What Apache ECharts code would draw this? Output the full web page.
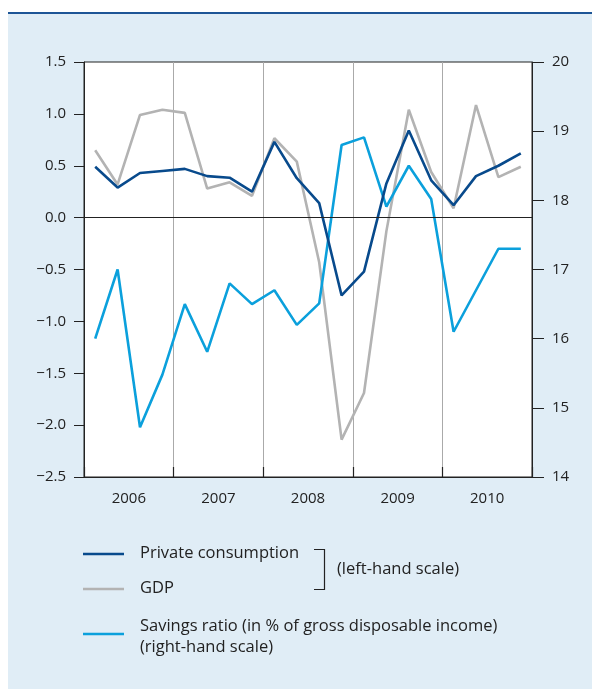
<!DOCTYPE html>
<html>
<head>
<meta charset="utf-8">
<script src="https://cdn.jsdelivr.net/npm/echarts@6/dist/echarts.min.js"></script>
<style>
html,body{margin:0;padding:0;background:#fff;}
#wrap{position:relative;width:592px;height:689px;overflow:hidden;}
#band{position:absolute;left:8px;top:14px;width:584px;height:675px;background:#e0edf6;}
#topline{position:absolute;left:8px;top:12px;width:584px;height:2px;background:#1d5596;}
#chart{position:absolute;left:0;top:0;width:592px;height:689px;}
</style>
</head>
<body>
<div id="wrap"><div id="band"></div><div id="topline"></div><div id="chart"></div></div>
<script>
const quarters = ['2006Q1','2006Q2','2006Q3','2006Q4','2007Q1','2007Q2','2007Q3','2007Q4','2008Q1','2008Q2','2008Q3','2008Q4','2009Q1','2009Q2','2009Q3','2009Q4','2010Q1','2010Q2','2010Q3','2010Q4'];
const years = ['2006','2007','2008','2009','2010'];
const privateConsumption = [0.49,0.29,0.43,0.45,0.47,0.40,0.385,0.25,0.73,0.38,0.14,-0.75,-0.52,0.33,0.84,0.36,0.12,0.40,0.50,0.62];
const gdp = [0.65,0.32,0.99,1.04,1.01,0.28,0.34,0.21,0.765,0.54,-0.43,-2.14,-1.69,-0.13,1.04,0.44,0.09,1.085,0.39,0.49];
const savingsRatio = [16.0,17.0,14.72,15.48,16.5,15.81,16.8,16.5,16.7,16.2,16.51,18.8,18.91,17.91,18.5,18.02,16.1,16.7,17.3,17.3];
const leftTicks = {min:-2.5, max:1.5, interval:0.5};
const rightTicks = {min:14, max:20, interval:1};
const legendNames = ['Private consumption','GDP','Savings ratio (in % of gross disposable income)','(right-hand scale)','(left-hand scale)'];

const FONT = "'Open Sans', 'Noto Sans', sans-serif";
const TXT = '#222';
const C_PC = '#084a8c', C_GDP = '#b3b3b3', C_SR = '#0ba0dc';
const LF = '16.5px ' + FONT;
const LW = 2.6;

const chart = echarts.init(document.getElementById('chart'), null, {renderer:'canvas'});
chart.setOption({
  backgroundColor:'transparent',
  animation:false,
  textStyle:{fontFamily:FONT},
  grid:{left:84,right:60,top:62,bottom:212,show:true,backgroundColor:'#fff',borderColor:'#222',borderWidth:1},
  xAxis:[
    {type:'category',data:quarters,boundaryGap:true,show:false,gridIndex:0},
    {type:'category',data:years,boundaryGap:true,position:'bottom',gridIndex:0,
     axisLine:{show:true,lineStyle:{color:'#222',width:1}},
     axisTick:{show:true,inside:true,length:10,lineStyle:{color:'#222',width:1.2}},
     axisLabel:{color:TXT,fontSize:15,fontFamily:FONT,margin:14},
     splitLine:{show:true,lineStyle:{color:'#aaa',width:1}}}
  ],
  yAxis:[
    {type:'value',min:leftTicks.min,max:leftTicks.max,interval:leftTicks.interval,position:'left',
     axisLine:{show:true,lineStyle:{color:'#222',width:1}},
     axisTick:{show:true,length:10,lineStyle:{color:'#222'}},
     axisLabel:{color:TXT,fontSize:15,fontFamily:FONT,margin:18,
       formatter:v=>v.toFixed(1).replace('-','\u2212')},
     splitLine:{show:false}},
    {type:'value',min:rightTicks.min,max:rightTicks.max,interval:rightTicks.interval,position:'right',
     axisLine:{show:true,lineStyle:{color:'#222',width:1}},
     axisTick:{show:true,length:12,lineStyle:{color:'#222'}},
     axisLabel:{color:TXT,fontSize:15,fontFamily:FONT,margin:20},
     splitLine:{show:false}}
  ],
  series:[
    {name:legendNames[1],type:'line',xAxisIndex:0,yAxisIndex:0,data:gdp,symbol:'none',
     lineStyle:{color:C_GDP,width:LW},z:2},
    {name:legendNames[2],type:'line',xAxisIndex:0,yAxisIndex:1,data:savingsRatio,symbol:'none',
     lineStyle:{color:C_SR,width:LW},z:3},
    {name:legendNames[0],type:'line',xAxisIndex:0,yAxisIndex:0,data:privateConsumption,symbol:'none',
     lineStyle:{color:C_PC,width:LW},z:4,
     markLine:{silent:true,symbol:'none',label:{show:false},
       lineStyle:{color:'#222',width:1,type:'solid'},data:[{yAxis:0}]}}
  ],
  graphic:[
    {type:'line',shape:{x1:83,y1:554,x2:124,y2:554},style:{stroke:C_PC,lineWidth:LW}},
    {type:'line',shape:{x1:83,y1:589,x2:124,y2:589},style:{stroke:C_GDP,lineWidth:LW}},
    {type:'line',shape:{x1:83,y1:634,x2:124,y2:634},style:{stroke:C_SR,lineWidth:LW}},
    {type:'text',left:140,top:545,style:{text:legendNames[0],fill:TXT,font:LF}},
    {type:'text',left:140,top:580,style:{text:legendNames[1],fill:TXT,font:LF}},
    {type:'text',left:140,top:618,style:{text:legendNames[2],fill:TXT,font:LF}},
    {type:'text',left:140,top:639,style:{text:legendNames[3],fill:TXT,font:LF}},
    {type:'polyline',shape:{points:[[314,549.5],[324.5,549.5],[324.5,589.5],[314,589.5]]},style:{stroke:'#222',lineWidth:1.2,fill:null}},
    {type:'text',left:337,top:561,style:{text:legendNames[4],fill:TXT,font:LF}}
  ]
});
</script>
</body>
</html>
